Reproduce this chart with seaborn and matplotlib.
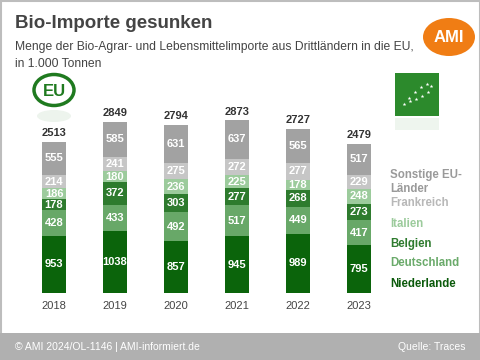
import numpy as np
import pandas as pd
import matplotlib
matplotlib.use("Agg")
import matplotlib.pyplot as plt
from matplotlib.patches import Ellipse, Rectangle
import seaborn as sns

# --- DATEN ---
jahre = ["2018", "2019", "2020", "2021", "2022", "2023"]
niederlande = [953, 1038, 857, 945, 989, 795]
deutschland = [428, 433, 492, 517, 449, 417]
belgien = [178, 372, 303, 277, 268, 273]
italien = [186, 180, 236, 225, 178, 248]
frankreich = [214, 241, 275, 272, 277, 229]
sonstige = [555, 585, 631, 637, 565, 517]
gesamt = [2513, 2849, 2794, 2873, 2727, 2479]

laender = ["Niederlande", "Deutschland", "Belgien", "Italien", "Frankreich", "Sonstige EU-\nLänder"]
serien = [niederlande, deutschland, belgien, italien, frankreich, sonstige]
farben = ["#0b640b", "#68a868", "#2e7b2e", "#9ccb9c", "#c6c6c6", "#a2a2a2"]
text_farben = ["#0b5a0b", "#6aaa6a", "#2e7b2e", "#9ccb9c", "#b8b8b8", "#9a9a9a"]

sns.set_theme(style="white")
plt.rcParams["font.family"] = ["Liberation Sans", "DejaVu Sans"]

fig = plt.figure(figsize=(4.8, 3.6), dpi=100)

# --- HINTERGRUND / DEKO (Pixelkoordinaten) ---
bg = fig.add_axes([0, 0, 1, 1], zorder=0)
bg.set_xlim(0, 480)
bg.set_ylim(360, 0)
bg.axis("off")
bg.add_patch(Rectangle((0.5, 0.5), 479, 359, facecolor="white", edgecolor="#bdbdbd", lw=1.5))
bg.add_patch(Rectangle((0, 333), 480, 27, facecolor="#b0b0b0", edgecolor="none"))
bg.text(15, 347, "© AMI 2024/OL-1146 | AMI-informiert.de", color="white", fontsize=7.5, va="center")
bg.text(465, 347, "Quelle: Traces", color="white", fontsize=7.5, va="center", ha="right")

bg.text(15, 24, "Bio-Importe gesunken", fontsize=13.5, fontweight="bold", color="#444444", va="center")
bg.text(15, 47, "Menge der Bio-Agrar- und Lebensmittelimporte aus Drittländern in die EU,",
        fontsize=8.7, color="#444444", va="center")
bg.text(15, 64, "in 1.000 Tonnen", fontsize=8.7, color="#444444", va="center")

# AMI-Logo
bg.add_patch(Ellipse((449, 37), 52, 38, facecolor="#f07d14", edgecolor="none"))
bg.text(449, 38, "AMI", color="white", fontsize=12, fontweight="bold", ha="center", va="center")

# EU-Logo
bg.add_patch(Ellipse((54, 90), 40, 31, facecolor="white", edgecolor="#1f7a1f", lw=2.5))
bg.text(54, 91, "EU", color="#1f7a1f", fontsize=12, fontweight="bold", ha="center", va="center")
bg.add_patch(Ellipse((54, 116), 34, 12, facecolor="#edf4ed", edgecolor="none"))

# Bio-Siegel
bg.add_patch(Rectangle((395, 73), 44, 43, facecolor="#2c8a2c", edgecolor="none"))
bg.add_patch(Rectangle((395, 118), 44, 12, facecolor="#eef5ee", edgecolor="none"))
sx = [404, 409, 415, 421, 427, 431, 428, 422, 416, 410]
sy = [104, 98, 92, 87, 84, 86, 92, 96, 99, 101]
bg.scatter(sx, sy, marker="*", s=8, color="white", linewidths=0)

# --- DIAGRAMM ---
ax = fig.add_axes([23.5 / 480, 67 / 360, 366 / 480, 0.568], zorder=1)
ax.patch.set_alpha(0)

kum = np.cumsum(np.array(serien), axis=0)
df = pd.DataFrame({"Jahr": jahre})
for i in range(len(serien) - 1, -1, -1):
    df["wert"] = kum[i]
    sns.barplot(data=df, x="Jahr", y="wert", color=farben[i], width=0.39,
                saturation=1, ax=ax, edgecolor="none")

for j in range(len(jahre)):
    unten = 0
    for i, s in enumerate(serien):
        ax.text(j, unten + s[j] / 2, str(s[j]), ha="center", va="center",
                color="white", fontsize=8, fontweight="bold")
        unten += s[j]
    ax.text(j, unten + 60, str(gesamt[j]), ha="center", va="bottom",
            color="#333333", fontsize=8, fontweight="bold")

ax.set_xlim(-0.5, 5.5)
ax.set_ylim(0, 3400)
ax.set_xlabel("")
ax.set_ylabel("")
ax.set_yticks([])
ax.tick_params(axis="x", length=0, labelsize=8, labelcolor="#444444", pad=6)
sns.despine(ax=ax, left=True, bottom=True)

# Legende als farbiger Text
leg_y = [284, 263, 244, 224, 203, 182]
for name, farbe, y in zip(laender, text_farben, leg_y):
    bg.text(390, y, name, color=farbe, fontsize=8.3, fontweight="bold", va="center",
            linespacing=1.3)

fig.savefig("out.png", dpi=100)
